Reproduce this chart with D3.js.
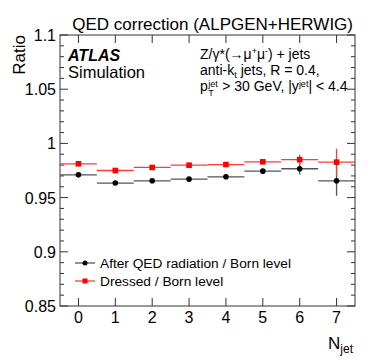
<!DOCTYPE html>
<html>
<head>
<meta charset="utf-8">
<script src="https://cdn.jsdelivr.net/npm/d3@7"></script>
<style>
  body { margin: 0; background: #fff; }
  svg { display: block; font-family: "Liberation Sans", Arial, sans-serif; }
  .frame { fill: none; stroke: #333; stroke-width: 1; }
  .tick { stroke: #333; stroke-width: 1; }
</style>
</head>
<body>
<div id="chart"></div>
<script>
// data
const nJet = [0, 1, 2, 3, 4, 5, 6, 7];
const afterQed = [0.9710, 0.9634, 0.9655, 0.9670, 0.9692, 0.9744, 0.9766, 0.9655];
const afterQedErr = [0.0012, 0.0012, 0.0012, 0.0012, 0.0013, 0.0016, 0.0053, 0.0138];
const dressed = [0.9812, 0.9750, 0.9778, 0.9799, 0.9805, 0.9830, 0.9850, 0.9827];
const dressedErr = [0.0010, 0.0010, 0.0010, 0.0010, 0.0011, 0.0014, 0.0046, 0.0124];
const yTicks = [0.85, 0.9, 0.95, 1, 1.05, 1.1];
const yTickLabels = ['0.85', '0.9', '0.95', '1', '1.05', '1.1'];

const W = 374, H = 364;
const margins = {top: 35, right: 19, bottom: 58, left: 60};
const width = W - margins.left - margins.right,
      height = H - margins.top - margins.bottom;

const xScale = d3.scaleLinear().domain([-0.5, 7.5]).range([0, width]);
const yScale = d3.scaleLinear().domain([0.85, 1.1]).range([height, 0]);

const $svg = d3.select('#chart').append('svg')
  .attr('width', W)
  .attr('height', H);

const $g = $svg.append('g')
  .attr('transform', `translate(${margins.left}, ${margins.top})`);

// ticks on all four sides
const minorTicks = d3.range(0.85, 1.1001, 0.01).map(v => +v.toFixed(2));
const $ticks = $g.append('g');
minorTicks.forEach(v => {
  const major = yTicks.some(t => Math.abs(t - v) < 1e-6);
  const len = major ? 8 : 4;
  const y = yScale(v);
  $ticks.append('line').classed('tick', true)
    .attr('x1', 0).attr('x2', len).attr('y1', y).attr('y2', y);
  $ticks.append('line').classed('tick', true)
    .attr('x1', width).attr('x2', width - len).attr('y1', y).attr('y2', y);
});
nJet.forEach(n => {
  const x = xScale(n);
  $ticks.append('line').classed('tick', true)
    .attr('x1', x).attr('x2', x).attr('y1', height).attr('y2', height - 8);
  $ticks.append('line').classed('tick', true)
    .attr('x1', x).attr('x2', x).attr('y1', 0).attr('y2', 8);
});

$g.append('rect').classed('frame', true)
  .attr('x', 0).attr('y', 0)
  .attr('width', width).attr('height', height);

// tick labels
$g.selectAll('.ylab')
  .data(yTicks)
  .enter()
  .append('text')
  .attr('x', -4)
  .attr('y', d => yScale(d) + 6)
  .attr('text-anchor', 'end')
  .style('font-size', '16px')
  .text((d, i) => yTickLabels[i]);

$g.selectAll('.xlab')
  .data(nJet)
  .enter()
  .append('text')
  .attr('x', d => xScale(d))
  .attr('y', height + 17)
  .attr('text-anchor', 'middle')
  .style('font-size', '16px')
  .text(d => d);

// axis titles
$svg.append('text')
  .attr('transform', `translate(25, ${margins.top}) rotate(-90)`)
  .attr('text-anchor', 'end')
  .style('font-size', '17px')
  .text('Ratio');

const $xt = $svg.append('text')
  .attr('x', margins.left + width - 2)
  .attr('y', 349)
  .attr('text-anchor', 'end')
  .style('font-size', '17px');
$xt.append('tspan').text('N');
$xt.append('tspan').attr('dy', 4).style('font-size', '12px').text('jet');

$svg.append('text')
  .attr('x', 353)
  .attr('y', 30)
  .attr('text-anchor', 'end')
  .style('font-size', '17px')
  .text('QED correction (ALPGEN+HERWIG)');

// labels
$svg.append('text')
  .attr('x', 68).attr('y', 61)
  .style('font-size', '16px')
  .style('font-weight', 'bold')
  .style('font-style', 'italic')
  .text('ATLAS');
$svg.append('text')
  .attr('x', 68).attr('y', 78)
  .style('font-size', '16.5px')
  .text('Simulation');

const infoSize = '14px', supSize = '9px', infoX = 200;
const $l1 = $svg.append('text').attr('x', infoX).attr('y', 59).style('font-size', infoSize);
$l1.append('tspan').text('Z/γ*(→μ');
$l1.append('tspan').attr('dy', -5).style('font-size', supSize).text('+');
$l1.append('tspan').attr('dy', 5).text('μ');
$l1.append('tspan').attr('dy', -5).style('font-size', supSize).text('-');
$l1.append('tspan').attr('dy', 5).text(') + jets');

const $l2 = $svg.append('text').attr('x', infoX).attr('y', 75).style('font-size', infoSize);
$l2.append('tspan').text('anti-k');
$l2.append('tspan').attr('dy', 3).style('font-size', supSize).text('t');
$l2.append('tspan').attr('dy', -3).text('\u00a0jets, R = 0.4,');

// third line: p with stacked jet/T, then the rest
const $p = $svg.append('text').attr('x', infoX).attr('y', 91).style('font-size', infoSize).text('p');
const pw = $p.node().getComputedTextLength();
const $sup = $svg.append('text').attr('x', infoX + pw + 0.5).attr('y', 87)
  .style('font-size', supSize).text('jet');
$svg.append('text').attr('x', infoX + pw + 0.5).attr('y', 96)
  .style('font-size', supSize).text('T');
const supW = $sup.node().getComputedTextLength();
const $l3 = $svg.append('text').attr('x', infoX + pw + supW + 1).attr('y', 91).style('font-size', infoSize);
$l3.append('tspan').text('\u00a0> 30 GeV, |y');
$l3.append('tspan').attr('dy', -4).style('font-size', supSize).text('jet');
$l3.append('tspan').attr('dy', 4).text('| < 4.4');

// series
const series = [
  {name: 'After QED radiation / Born level', values: afterQed, errs: afterQedErr, color: '#000', line: '#555', marker: 'circle'},
  {name: 'Dressed / Born level', values: dressed, errs: dressedErr, color: '#ff0000', line: '#ff3a3a', marker: 'square'}
];

series.forEach(s => {
  const pts = nJet.map((n, i) => ({n, v: s.values[i], e: s.errs[i]}));
  const $s = $g.append('g');
  $s.selectAll('.h')
    .data(pts).enter().append('line')
    .attr('x1', d => xScale(d.n - 0.5)).attr('x2', d => xScale(d.n + 0.5))
    .attr('y1', d => yScale(d.v)).attr('y2', d => yScale(d.v))
    .attr('stroke', s.line).attr('stroke-width', 1.3);
  $s.selectAll('.v')
    .data(pts).enter().append('line')
    .attr('x1', d => xScale(d.n)).attr('x2', d => xScale(d.n))
    .attr('y1', d => yScale(d.v - d.e)).attr('y2', d => yScale(d.v + d.e))
    .attr('stroke', s.line).attr('stroke-width', 1.3);
  if (s.marker === 'circle') {
    $s.selectAll('.m')
      .data(pts).enter().append('circle')
      .attr('cx', d => xScale(d.n)).attr('cy', d => yScale(d.v))
      .attr('r', 2.8).attr('fill', s.color);
  } else {
    $s.selectAll('.m')
      .data(pts).enter().append('rect')
      .attr('x', d => xScale(d.n) - 2.8).attr('y', d => yScale(d.v) - 2.8)
      .attr('width', 5.6).attr('height', 5.6).attr('fill', s.color);
  }
});

// legend
const $legend = $svg.append('g');
series.forEach((s, i) => {
  const y = 263 + i * 18;
  $legend.append('line')
    .attr('x1', 75).attr('x2', 95).attr('y1', y).attr('y2', y)
    .attr('stroke', s.line).attr('stroke-width', 1.3);
  if (s.marker === 'circle') {
    $legend.append('circle').attr('cx', 85).attr('cy', y).attr('r', 2.5).attr('fill', s.color);
  } else {
    $legend.append('rect').attr('x', 82.5).attr('y', y - 2.5).attr('width', 5).attr('height', 5).attr('fill', s.color);
  }
  $legend.append('text')
    .attr('x', 100).attr('y', y + 5)
    .style('font-size', '13.7px')
    .text(s.name);
});
</script>
</body>
</html>
